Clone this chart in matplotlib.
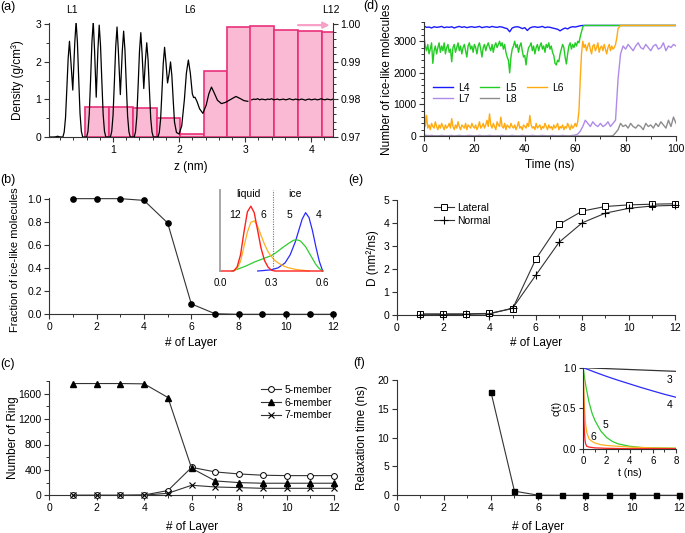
import numpy as np
import matplotlib
matplotlib.use('Agg')
import matplotlib.pyplot as plt
from matplotlib.ticker import MultipleLocator, FormatStrFormatter
from matplotlib.transforms import blended_transform_factory

plt.rcParams['font.family'] = ['Liberation Sans', 'DejaVu Sans']

# ---------------- data ----------------
# (a) density profile (left axis, g/cm^3)
dens_z = [0.03, 0.10, 0.13, 0.16, 0.19, 0.22,
          0.24, 0.26, 0.28, 0.30, 0.32, 0.34, 0.36, 0.39, 0.42, 0.44, 0.46, 0.48, 0.50, 0.52, 0.54,
          0.60, 0.62, 0.64, 0.66, 0.68, 0.70, 0.72, 0.745, 0.77, 0.79, 0.81, 0.83, 0.85, 0.87, 0.89,
          0.96, 0.98, 1.00, 1.02, 1.04, 1.06, 1.08, 1.11, 1.14, 1.16, 1.18, 1.20, 1.22, 1.24, 1.26,
          1.32, 1.34, 1.36, 1.38, 1.40, 1.42, 1.44, 1.465, 1.49, 1.51, 1.53, 1.55, 1.57, 1.59, 1.61,
          1.68, 1.70, 1.72, 1.74, 1.76, 1.78, 1.80, 1.825, 1.85, 1.87, 1.89, 1.91, 1.93, 1.96,
          2.00, 2.04, 2.08, 2.11, 2.14, 2.17, 2.20, 2.22, 2.24, 2.27, 2.31, 2.36,
          2.41, 2.45, 2.49, 2.53, 2.58, 2.64, 2.70, 2.78, 2.86, 2.93, 2.98, 3.04]
dens_rho = [0.0, 0.0, 0.005, 0.02, 0.005, 0.0,
            0.0, 0.13, 0.51, 1.28, 2.09, 2.55, 2.05, 1.25, 2.50, 3.08, 2.53, 1.54, 0.62, 0.15, 0.0,
            0.0, 0.15, 0.62, 1.54, 2.53, 3.08, 2.30, 1.06, 2.30, 2.98, 2.44, 1.49, 0.60, 0.15, 0.0,
            0.0, 0.15, 0.59, 1.47, 2.40, 2.93, 2.30, 1.13, 2.30, 2.82, 2.31, 1.41, 0.56, 0.14, 0.0,
            0.0, 0.14, 0.56, 1.39, 2.28, 2.78, 2.20, 1.29, 2.05, 2.51, 2.06, 1.26, 0.50, 0.13, 0.0,
            0.0, 0.12, 0.48, 1.20, 1.96, 2.39, 2.00, 1.44, 1.70, 2.00, 1.64, 1.00, 0.40, 0.12,
            0.08, 0.30, 1.00, 1.70, 2.05, 1.70, 1.15, 1.05, 1.06, 0.95, 0.75, 0.63,
            0.85, 1.15, 1.33, 1.18, 0.98, 0.89, 0.92, 1.00, 1.08, 1.02, 0.97, 0.95]
flat_z = np.round(3.10 + 0.03 * np.arange(42), 2)
flat_rho = [0.99, 1.01, 1.00, 1.02, 0.99, 1.01, 1.00,
            0.99, 1.01, 1.00, 1.02, 0.99, 1.00, 1.01,
            0.99, 1.00, 1.01, 0.99, 1.00, 1.02, 1.00,
            0.99, 1.01, 1.00, 0.99, 1.01, 1.00, 0.98,
            1.00, 1.01, 0.99, 1.00, 1.01, 0.99, 1.00,
            1.02, 1.00, 0.99, 1.01, 1.00, 0.99, 1.01]
# layer-averaged density (right axis)
layer_left = [0.58, 0.94, 1.30, 1.66, 2.02, 2.37, 2.73, 3.08, 3.44, 3.80, 4.16]
layer_width = 0.36
layer_rho = [0.9780, 0.9780, 0.9778, 0.9751, 0.9708, 0.9876, 0.9993, 0.9996, 0.9986, 0.9983, 0.9981]
layer_tags = ['L1', 'L6', 'L12']
layer_tag_z = [0.38, 2.16, 4.30]

# (b)
layers = np.arange(1, 13)
frac_ice = [1.0, 1.0, 1.0, 0.985, 0.79, 0.09, 0.005, 0.0, 0.0, 0.0, 0.0, 0.0]
# (b) inset distributions
q12_x = [0.0, 0.08, 0.10, 0.12, 0.14, 0.16, 0.18, 0.20, 0.22, 0.24, 0.26, 0.28, 0.30, 0.32, 0.60]
q12_y = [0.0, 0.0, 0.05, 0.20, 0.48, 0.73, 0.80, 0.72, 0.50, 0.28, 0.13, 0.05, 0.01, 0.0, 0.0]
q6_x = [0.08, 0.10, 0.12, 0.14, 0.16, 0.18, 0.20, 0.22, 0.24, 0.26, 0.28, 0.30, 0.32, 0.34, 0.36, 0.38, 0.40, 0.44, 0.48, 0.52]
q6_y = [0.0, 0.03, 0.12, 0.30, 0.48, 0.60, 0.62, 0.55, 0.44, 0.33, 0.24, 0.18, 0.13, 0.10, 0.075, 0.055, 0.04, 0.02, 0.01, 0.0]
q5_x = [0.07, 0.10, 0.15, 0.20, 0.25, 0.30, 0.33, 0.36, 0.40, 0.43, 0.45, 0.47, 0.50, 0.53, 0.56, 0.58, 0.60]
q5_y = [0.0, 0.02, 0.06, 0.11, 0.15, 0.19, 0.23, 0.28, 0.34, 0.38, 0.385, 0.37, 0.30, 0.19, 0.08, 0.03, 0.0]
q4_x = [0.22, 0.25, 0.30, 0.34, 0.38, 0.41, 0.44, 0.46, 0.48, 0.50, 0.52, 0.54, 0.56, 0.58, 0.60]
q4_y = [0.0, 0.005, 0.015, 0.04, 0.10, 0.20, 0.36, 0.50, 0.64, 0.72, 0.66, 0.50, 0.30, 0.12, 0.0]
q_cut = 0.31

# (c)
ring5 = [0, 0, 0, 5, 75, 440, 368, 336, 316, 310, 310, 310]
ring6 = [1760, 1760, 1760, 1755, 1540, 425, 226, 200, 190, 190, 190, 190]
ring7 = [0, 0, 0, 2, 32, 158, 131, 121, 110, 110, 110, 110]

# (d)
t_half = np.arange(0, 100.5, 0.5)
t_one = np.arange(0, 101, 1)
n_L4 = ([3480, 3440, 3450, 3420, 3460, 3440, 3450, 3470, 3430, 3450,
         3440, 3460, 3420, 3450, 3470, 3440, 3460, 3430, 3450, 3460,
         3440, 3450, 3470, 3430, 3450, 3460, 3440, 3470, 3450, 3440,
         3460, 3450, 3420, 3400, 3300, 3420, 3450, 3460, 3440, 3400,
         3430, 3340, 3420, 3450, 3460, 3440, 3450, 3470, 3430, 3450,
         3440, 3420, 3400, 3380, 3330, 3380, 3420, 3390, 3440, 3460,
         3450, 3470, 3490, 3500, 3500, 3500, 3500, 3500, 3500, 3500]
        + [3500] * 31)
n_L5 = ([3150, 2850, 2700, 2900, 2600, 2750, 2950, 2300, 2700, 2850, 2600,
         2800, 2950, 2650, 2850, 2700, 2950, 2600, 2800, 2900, 2650,
         2750, 2350, 2800, 2900, 2650, 2800, 2950, 2700, 2850, 2600,
         2800, 2900, 2700, 2500, 2850, 2950, 2750, 2850, 2650, 2900,
         2800, 2600, 2850, 2950, 2750, 2500, 2800, 2900, 2700, 2850,
         2950, 2800, 2700, 2900, 2650, 2850, 2950, 2800, 2900, 3000,
         2850, 2950, 2750, 2900, 2650, 2500, 2400, 2000, 2500, 2750,
         2850, 3000, 2800, 2900, 2650, 2850, 2950, 2700, 2500, 2550,
         2250, 2600, 2800, 2850, 2950, 2700, 2850, 2600, 2800, 2900,
         2700, 2850, 2950, 2750, 2850, 2650, 2900, 2800, 2950, 2750,
         2850, 2650, 2550, 2300, 2250, 2400, 2350, 2600, 2750, 2900,
         2800, 2500, 2280, 2600, 2850, 2950, 2750, 2900, 2800, 2950,
         2850, 3000, 2950, 3150, 3300, 3450, 3500, 3500, 3500, 3500]
        + [3500] * 70)
n_L6 = ([950, 300, 650, 250, 350, 200, 400, 300, 250, 450, 300,
         200, 350, 250, 400, 300, 200, 350, 250, 300, 400,
         250, 550, 300, 200, 350, 250, 450, 300, 200, 350,
         300, 250, 400, 200, 350, 300, 250, 400, 300, 250,
         350, 200, 300, 450, 250, 300, 400, 250, 350, 500,
         300, 700, 350, 250, 400, 300, 200, 450, 350, 300,
         600, 300, 250, 400, 200, 350, 300, 250, 400, 300,
         250, 350, 200, 300, 450, 250, 300, 200, 350, 300,
         250, 400, 300, 650, 350, 250, 300, 200, 400, 250,
         300, 350, 200, 300, 250, 400, 300, 200, 350, 250,
         300, 200, 350, 250, 300, 400, 200, 300, 250, 350,
         200, 300, 250, 400, 300, 200, 350, 250, 300, 400,
         300, 450, 800, 1800, 2600, 3000, 2800, 2900, 2700, 2850,
         2950, 2750, 2600, 2850, 2900, 2700, 2800, 2950, 2650, 2800,
         2850, 2700, 2900, 2750, 2600, 2800, 2900, 2700, 2850, 2750,
         2800, 2900, 3100, 3400, 3450, 3500, 3500, 3500, 3500, 3500]
        + [3500] * 40)
n_L7 = [30, 20, 10, 20, 10, 0, 10, 20, 10, 0,
        10, 20, 0, 10, 20, 10, 0, 10, 20, 10,
        0, 10, 20, 10, 0, 10, 20, 10, 0, 10,
        10, 20, 10, 0, 10, 20, 10, 0, 10, 20,
        10, 0, 10, 20, 10, 0, 10, 20, 10, 0,
        10, 20, 10, 0, 10, 20, 10, 0, 10, 20,
        30, 60, 150, 300, 500, 400, 300, 450, 350, 300,
        400, 300, 350, 450, 300, 400, 500, 1800, 2600, 2850,
        2750, 2900, 2800, 2700, 2850, 2950, 2800, 2750, 2900, 2800,
        2700, 2850, 2900, 2750, 2800, 2950, 2700, 2850, 2800, 2900,
        2850]
n_L8 = ([0] * 75
        + [10, 100, 200, 400, 300, 350, 250, 400, 300, 250,
           350, 300, 200, 400, 300, 350, 250, 400, 300, 450,
           350, 250, 500, 300, 600, 400])

# (e)
D_lat = [0.05, 0.05, 0.05, 0.07, 0.28, 2.44, 3.95, 4.53, 4.73, 4.80, 4.83, 4.85]
D_norm = [0.01, 0.02, 0.03, 0.05, 0.30, 1.74, 3.17, 4.02, 4.44, 4.65, 4.75, 4.78]

# (f)
relax_layers = [4, 5, 6, 7, 8, 9, 10, 11, 12]
relax_time = [17.9, 0.72, 0.02, 0.0, 0.0, 0.0, 0.0, 0.0, 0.0]
c3_t = [0, 8]
c3 = [1.0, 0.955]
c4_t = [0, 1, 2, 3, 4, 5, 6, 7, 8]
c4 = [1.0, 0.945, 0.893, 0.845, 0.80, 0.755, 0.713, 0.672, 0.635]
c5_t = [0, 0.1, 0.25, 0.5, 0.75, 1, 1.5, 2, 2.5, 3, 4, 5, 6, 8]
c5 = [1.0, 0.88, 0.75, 0.57, 0.44, 0.35, 0.22, 0.14, 0.09, 0.06, 0.03, 0.015, 0.01, 0.005]
c6_t = [0, 0.05, 0.1, 0.2, 0.3, 0.5, 0.75, 1, 1.5, 2, 3, 4, 6, 8]
c6 = [1.0, 0.70, 0.50, 0.30, 0.20, 0.12, 0.09, 0.07, 0.05, 0.04, 0.03, 0.02, 0.01, 0.005]
c7_t = [0, 0.03, 0.06, 0.1, 0.15, 0.2, 0.3, 0.5, 1, 2, 4, 8]
c7 = [1.0, 0.60, 0.35, 0.20, 0.10, 0.06, 0.03, 0.02, 0.01, 0.005, 0.0, 0.0]

# ---------------- style ----------------
W, H = 685, 533
fig = plt.figure(figsize=(W / 100, H / 100), dpi=100)
SP = '#333333'
TICK = 7.5
LAB = 8.5


def px_axes(l, r, b, t):
    return fig.add_axes([l / W, 1 - b / H, (r - l) / W, (b - t) / H])


def style(ax):
    for s in ['top', 'right']:
        ax.spines[s].set_visible(False)
    for s in ['left', 'bottom']:
        ax.spines[s].set_color(SP)
        ax.spines[s].set_linewidth(0.8)
    ax.tick_params(which='major', direction='out', length=3.5, width=0.8,
                   color=SP, labelsize=TICK, pad=2)
    ax.tick_params(which='minor', direction='out', length=2, width=0.7, color=SP)


def labels(ax, xl, yl, xpos, ypos, ysize=LAB, ycen=0.5):
    ax.set_xlabel(xl, fontsize=LAB)
    ax.set_ylabel(yl, fontsize=ysize)
    ax.xaxis.set_label_coords(0.5, xpos)
    ax.yaxis.set_label_coords(ypos, ycen)
    ax.xaxis.label.set_verticalalignment('center')
    ax.yaxis.label.set_verticalalignment('center')


# ---------------- (a) ----------------
axA = px_axes(49, 333, 137, 22.5)
axA2 = axA.twinx()
axA2.bar(layer_left, np.array(layer_rho) - 0.97, width=layer_width, bottom=0.97,
         align='edge', color='#fbbad4', edgecolor='#e8307a', linewidth=1.2)
axA2.set_ylim(0.97, 1.0005)
axA.set_zorder(axA2.get_zorder() + 1)
axA.patch.set_visible(False)
axA.plot(dens_z, dens_rho, color='k', lw=0.9)
axA.plot(flat_z, flat_rho, color='k', lw=0.9)
axA.set_xlim(0.03, 4.33)
axA.set_ylim(0, 3.05)
style(axA)
axA.spines['right'].set_visible(False)
axA2.spines['top'].set_visible(False)
axA2.spines['left'].set_visible(False)
axA2.spines['bottom'].set_visible(False)
axA2.spines['right'].set_color(SP)
axA2.spines['right'].set_linewidth(0.8)
axA2.tick_params(which='major', direction='out', length=3.5, width=0.8,
                 color=SP, labelsize=TICK, pad=2)
axA2.tick_params(which='minor', direction='out', length=2, width=0.7, color=SP)
axA2.yaxis.set_major_locator(MultipleLocator(0.01))
axA2.yaxis.set_minor_locator(MultipleLocator(0.002))
axA2.yaxis.set_major_formatter(FormatStrFormatter('%.2f'))
axA.set_xticks([1, 2, 3, 4])
axA.xaxis.set_minor_locator(MultipleLocator(0.2))
axA.set_yticks([0, 1, 2, 3])
axA.yaxis.set_minor_locator(MultipleLocator(0.5))
labels(axA, 'z (nm)', 'Density (g/cm³)', -0.262, -0.109)
trA = blended_transform_factory(axA.transData, axA.transAxes)
for tag, zt in zip(layer_tags, layer_tag_z):
    axA.text(zt, 1.11, tag, transform=trA, ha='center', va='center', fontsize=7.5)
axA.annotate('', xy=(4.28, 2.98), xytext=(3.80, 2.98),
             arrowprops=dict(arrowstyle='-|>', color='#f7a1c6', lw=1.6,
                             mutation_scale=9, shrinkA=0, shrinkB=0),
             annotation_clip=False)

# ---------------- (b) ----------------
axB = px_axes(49.3, 333.3, 314.3, 197.5)
axB.plot(layers, frac_ice, color=SP, lw=0.8, marker='o', ms=3.8,
         mfc='k', mec='k', clip_on=False, zorder=3)
axB.set_xlim(0, 12)
axB.set_ylim(0, 1.01)
style(axB)
axB.set_xticks(range(0, 13, 2))
axB.xaxis.set_minor_locator(MultipleLocator(1))
axB.set_yticks(np.arange(0, 1.01, 0.2))
axB.yaxis.set_major_formatter(FormatStrFormatter('%.1f'))
labels(axB, '# of Layer', 'Fraction of ice-like molecules', -0.246, -0.121,
       ysize=8, ycen=0.47)

axBi = px_axes(220, 322.7, 271, 190)
axBi.plot(q4_x, q4_y, color='#2a2aff', lw=0.9, clip_on=False)
axBi.plot(q5_x, q5_y, color='#2ecc2e', lw=0.9, clip_on=False)
axBi.plot(q6_x, q6_y, color='#ffb020', lw=0.9, clip_on=False)
axBi.plot(q12_x, q12_y, color='#ff2020', lw=1.0, clip_on=False)
axBi.axvline(q_cut, color='#777777', lw=0.8, ls=(0, (1, 1.2)))
axBi.set_xlim(0, 0.6)
axBi.set_ylim(0, 1)
axBi.patch.set_visible(False)
for s in ['top', 'right', 'bottom']:
    axBi.spines[s].set_visible(False)
axBi.spines['left'].set_color('#a0a0a0')
axBi.spines['left'].set_linewidth(1.3)
axBi.set_yticks([])
axBi.set_xticks([0.0, 0.3, 0.6])
axBi.xaxis.set_major_formatter(FormatStrFormatter('%.1f'))
axBi.tick_params(axis='x', length=0, labelsize=7, pad=5)
for txt, xx, yy in [('liquid', 0.164, 0.95), ('ice', 0.438, 0.95),
                    ('12', 0.088, 0.69), ('6', 0.251, 0.69),
                    ('5', 0.403, 0.69), ('4', 0.578, 0.69)]:
    axBi.text(xx, yy, txt, ha='center', va='center', fontsize=7.5)

# ---------------- (c) ----------------
axC = px_axes(49.3, 334, 495.3, 381)
axC.plot(layers, ring5, color=SP, lw=0.8, marker='o', ms=4.2, mfc='white',
         mec='k', mew=0.7, clip_on=False, zorder=3, label='5-member')
axC.plot(layers, ring6, color=SP, lw=0.8, marker='^', ms=4.6, mfc='k',
         mec='k', clip_on=False, zorder=3, label='6-member')
axC.plot(layers, ring7, color=SP, lw=0.8, marker='x', ms=4.2, mec='k',
         mew=0.8, clip_on=False, zorder=3, label='7-member')
axC.set_xlim(0, 12)
axC.set_ylim(0, 1800)
style(axC)
axC.set_xticks(range(0, 13, 2))
axC.xaxis.set_minor_locator(MultipleLocator(1))
axC.set_yticks(range(0, 1601, 400))
axC.yaxis.set_minor_locator(MultipleLocator(200))
labels(axC, '# of Layer', 'Number of Ring', -0.275, -0.127)
axC.legend(loc='upper left', bbox_to_anchor=(0.72, 1.02), frameon=False,
           fontsize=7.5, handlelength=2.0, handletextpad=0.3, labelspacing=0.25,
           borderpad=0.1)

# ---------------- (d) ----------------
axD = px_axes(424, 676, 136, 22.3)
hL4, = axD.plot(t_one, n_L4, color='#1a1aff', lw=1.0, label='L4')
hL5, = axD.plot(t_half, n_L5, color='#22cc22', lw=1.0, label='L5')
hL6, = axD.plot(t_half, n_L6, color='#ffaa10', lw=1.0, label='L6')
hL7, = axD.plot(t_one, n_L7, color='#b08ae8', lw=1.0, label='L7')
hL8, = axD.plot(t_one, n_L8, color='#8c8c8c', lw=1.0, label='L8')
axD.set_xlim(0, 100)
axD.set_ylim(0, 3600)
style(axD)
axD.set_xticks(range(0, 101, 20))
axD.xaxis.set_minor_locator(MultipleLocator(10))
axD.set_yticks([0, 1000, 2000, 3000])
axD.yaxis.set_minor_locator(MultipleLocator(200))
labels(axD, 'Time (ns)', 'Number of ice-like molecules', -0.255, -0.148)
axD.legend([hL4, hL7, hL5, hL8, hL6], ['L4', 'L7', 'L5', 'L8', 'L6'], ncol=3,
           loc='upper left', bbox_to_anchor=(0.01, 0.52), frameon=False,
           fontsize=7.5, handlelength=1.9, handletextpad=0.5, columnspacing=1.0,
           labelspacing=0.05, borderpad=0.1)

# ---------------- (e) ----------------
axE = px_axes(396.7, 675, 315, 200.3)
axE.plot(layers, D_lat, color=SP, lw=0.8, marker='s', ms=4.2, mfc='white',
         mec='k', mew=0.7, clip_on=False, zorder=3, label='Lateral')
axE.plot(layers, D_norm, color=SP, lw=0.8, marker='+', ms=5.5, mec='k',
         mew=0.8, clip_on=False, zorder=3, label='Normal')
axE.set_xlim(0, 12)
axE.set_ylim(0, 5)
style(axE)
axE.set_xticks(range(0, 13, 2))
axE.xaxis.set_minor_locator(MultipleLocator(1))
axE.set_yticks(range(0, 6))
labels(axE, '# of Layer', 'D (nm²/ns)', -0.244, -0.085)
axE.legend(loc='upper left', bbox_to_anchor=(0.11, 1.03), frameon=False,
           fontsize=7.5, handlelength=2.0, handletextpad=0.3, labelspacing=0.25,
           borderpad=0.1)

# ---------------- (f) ----------------
axF = px_axes(396.7, 679.3, 495.3, 379.7)
axF.plot(relax_layers, relax_time, color=SP, lw=0.8, marker='s', ms=3.6,
         mfc='k', mec='k', clip_on=False, zorder=3)
axF.set_xlim(0, 12)
axF.set_ylim(0, 20)
style(axF)
axF.set_xticks(range(0, 13, 2))
axF.xaxis.set_minor_locator(MultipleLocator(1))
axF.set_yticks(range(0, 21, 5))
labels(axF, '# of Layer', 'Relaxation time (ns)', -0.274, -0.124)

axFi = px_axes(583.3, 676, 448.7, 367.7)
axFi.plot(c3_t, c3, color='#333333', lw=0.9)
axFi.plot(c4_t, c4, color='#2a2aff', lw=0.9)
axFi.plot(c5_t, c5, color='#2ecc2e', lw=0.9)
axFi.plot(c6_t, c6, color='#ffb020', lw=0.9)
axFi.plot(c7_t, c7, color='#ff2020', lw=0.9)
axFi.set_xlim(0, 8)
axFi.set_ylim(0, 1)
axFi.patch.set_visible(False)
style(axFi)
axFi.tick_params(which='major', labelsize=7, length=3)
axFi.set_xticks(range(0, 9, 2))
axFi.xaxis.set_minor_locator(MultipleLocator(1))
axFi.set_yticks([0, 0.5, 1.0])
axFi.yaxis.set_major_formatter(FormatStrFormatter('%.1f'))
axFi.set_xlabel('t (ns)', fontsize=7.5, labelpad=2)
axFi.set_ylabel('c(t)', fontsize=7.5, labelpad=1)
for txt, xx, yy in [('3', 7.48, 0.85), ('4', 7.48, 0.54), ('5', 1.87, 0.29), ('6', 0.84, 0.15)]:
    axFi.text(xx, yy, txt, ha='center', va='center', fontsize=7.5)

# ---------------- panel labels ----------------
for txt, xx, yy in [('(a)', 0, 7), ('(b)', 0, 180), ('(c)', 0, 364),
                    ('(d)', 363, 6), ('(e)', 348, 180), ('(f)', 353, 363)]:
    fig.text(xx / W, 1 - yy / H, txt, ha='left', va='center', fontsize=9)

fig.savefig('out.png', dpi=100)
